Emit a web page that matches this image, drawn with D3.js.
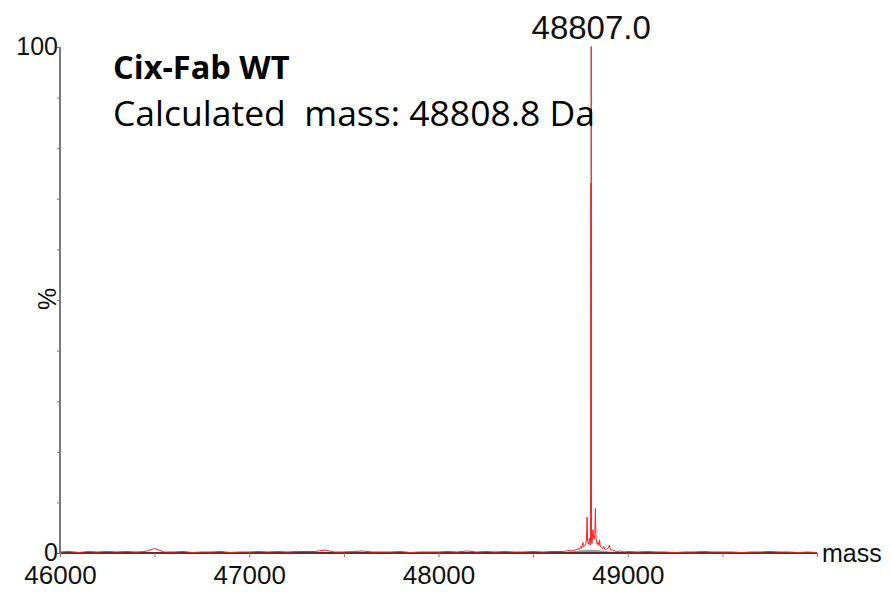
<!DOCTYPE html>
<html>
<head>
<meta charset="utf-8">
<script src="https://cdn.jsdelivr.net/npm/d3@7"></script>
<style>
  html, body { margin: 0; padding: 0; background: #fff; }
  svg { display: block; }
</style>
</head>
<body>
<svg id="chart" width="891" height="592"></svg>
<script>
// Deconvoluted mass spectrum of Cix-Fab WT (relative intensity, %)

const title = "Cix-Fab WT";
const subtitle = "Calculated  mass: 48808.8 Da";
const peakLabel = "48807.0";
const peakLabelMass = 48807.0;

const xTickValues = [46000, 47000, 48000, 49000];
const yTickLabels = [0, 100];

// Baseline noise, sampled every 50 Da (%)
const noiseLowStart = 46000;
const noiseLow = [
  0.1, 0.2, 0.0, 0.2, 0.1, 0.2, 0.1, 0.2, 0.1, 0.2,
  0.8, 0.1, 0.1, 0.2, 0.0, 0.1, 0.1, 0.2, 0.0, 0.1,
  0.1, 0.2, 0.1, 0.2, 0.1, 0.2, 0.2, 0.2, 0.5, 0.1,
  0.1, 0.2, 0.3, 0.1, 0.1, 0.1, 0.2, 0.0, 0.1, 0.1,
  0.1, 0.2, 0.1, 0.3, 0.1, 0.2, 0.1, 0.2, 0.1, 0.1,
  0.2, 0.1, 0.2
];
const noiseHighStart = 49000;
const noiseHigh = [
  0.2, 0.1, 0.2, 0.1, 0.1, 0.0, 0.1, 0.1, 0.2, 0.1,
  0.1, 0.1, 0.0, 0.1, 0.1, 0.2, 0.1, 0.1, 0.0, 0.1, 0.0
];

// Main peak cluster profile
const clusterMass = [
  48660, 48690, 48710, 48730, 48745, 48752, 48756, 48760, 48763, 48766,
  48772, 48778, 48782, 48785, 48788, 48794, 48798, 48802, 48804, 48805.5,
  48806.2, 48807, 48808, 48811, 48816, 48822, 48826, 48829, 48832, 48838,
  48844, 48848, 48851, 48855, 48862, 48868, 48873, 48878, 48888, 48898,
  48903, 48908, 48920, 48940, 48960, 48980
];
const clusterIntensity = [
  0.2, 0.4, 0.3, 0.6, 0.8, 1.2, 0.8, 1.4, 2.0, 1.1,
  1.3, 1.8, 2.5, 7.0, 2.2, 1.6, 2.8, 1.5, 4.0, 73,
  2.5, 100, 3.0, 1.8, 4.5, 2.6, 3.5, 8.7, 3.0, 1.6,
  2.0, 1.4, 2.5, 1.2, 1.0, 0.8, 1.2, 0.7, 0.6, 0.9,
  1.5, 0.5, 0.5, 0.2, 0.3, 0.1
];

// Broad underlying hump beneath the cluster
const humpMass = [48640, 48700, 48760, 48800, 48850, 48900, 48950];
const humpIntensity = [0, 0.3, 0.6, 0.7, 0.6, 0.3, 0];

const svg = d3.select("#chart");
const margin = { left: 60, right: 817, top: 47, bottom: 553 };

const x = d3.scaleLinear().domain([46000, 50000]).range([margin.left, margin.right]);
const y = d3.scaleLinear().domain([0, 100]).range([margin.bottom, margin.top]);

// Assemble the trace
const trace = [];
noiseLow.forEach((v, i) => trace.push([noiseLowStart + i * 50, v]));
clusterMass.forEach((m, i) => trace.push([m, clusterIntensity[i]]));
noiseHigh.forEach((v, i) => trace.push([noiseHighStart + i * 50, v]));
trace.sort((a, b) => a[0] - b[0]);

const hump = humpMass.map((m, i) => [m, humpIntensity[i]]);

const axisColor = "#7a7a7a";
const labelFont = "Liberation Sans, Arial, sans-serif";

// Hump area (grey)
svg.append("path")
  .datum(hump)
  .attr("fill", "#9a9a9a")
  .attr("d", d3.area().x(d => x(d[0])).y0(y(0)).y1(d => y(d[1])).curve(d3.curveBasis));

// X axis
const xAxis = d3.axisBottom(x)
  .tickValues(d3.range(46000, 50001, 500))
  .tickSize(4)
  .tickFormat(d => xTickValues.includes(d) ? d : "");
const gx = svg.append("g").attr("transform", `translate(0,${margin.bottom})`).call(xAxis);
gx.select(".domain").attr("stroke", "#5a3030").attr("stroke-width", 2)
  .attr("d", `M${margin.left},0H${margin.right}`);
gx.selectAll(".tick line").attr("stroke", axisColor);
gx.selectAll(".tick text")
  .attr("font-family", labelFont)
  .attr("font-size", 26)
  .attr("fill", "#111")
  .attr("dy", null)
  .attr("y", 31);

// Y axis
const yAxis = d3.axisLeft(y)
  .tickValues(d3.range(0, 101, 10))
  .tickSize(3)
  .tickFormat(d => yTickLabels.includes(d) ? d : "");
const gy = svg.append("g").attr("transform", `translate(${margin.left},0)`).call(yAxis);
gy.select(".domain").attr("stroke", axisColor).attr("stroke-width", 2)
  .attr("d", `M0,${margin.top}V${margin.bottom}`);
gy.selectAll(".tick line").attr("stroke", axisColor);
gy.selectAll(".tick text")
  .attr("font-family", labelFont)
  .attr("font-size", 25)
  .attr("fill", "#111")
  .attr("x", -2)
  .attr("dy", "0.3em");

// Spectrum trace
svg.append("path")
  .datum(trace)
  .attr("fill", "none")
  .attr("stroke", "#ff2020")
  .attr("stroke-width", 1)
  .attr("d", d3.line().x(d => x(d[0])).y(d => y(d[1]) - 0.5));

// Axis titles
svg.append("text")
  .attr("x", 822).attr("y", margin.bottom)
  .attr("dy", "0.35em")
  .attr("font-family", labelFont)
  .attr("font-size", 25)
  .attr("fill", "#111")
  .text("mass");

svg.append("text")
  .attr("transform", `translate(47,299) rotate(-90)`)
  .attr("text-anchor", "middle")
  .attr("dy", "0.35em")
  .attr("font-family", labelFont)
  .attr("font-size", 25)
  .attr("fill", "#111")
  .text("%");

// Peak label
svg.append("text")
  .attr("x", x(peakLabelMass))
  .attr("y", 39)
  .attr("text-anchor", "middle")
  .attr("font-family", labelFont)
  .attr("font-size", 33)
  .attr("fill", "#111")
  .text(peakLabel);

// Annotation
svg.append("text")
  .attr("x", 113).attr("y", 79)
  .attr("font-family", "'Open Sans', Lato, sans-serif")
  .attr("font-weight", "bold")
  .attr("font-size", 32.5)
  .attr("fill", "#000")
  .text(title);

svg.append("text")
  .attr("x", 113).attr("y", 126)
  .attr("font-family", "'Open Sans', Lato, sans-serif")
  .attr("font-size", 35.5)
  .attr("fill", "#000")
  .style("white-space", "pre")
  .text(subtitle);
</script>
</body>
</html>
